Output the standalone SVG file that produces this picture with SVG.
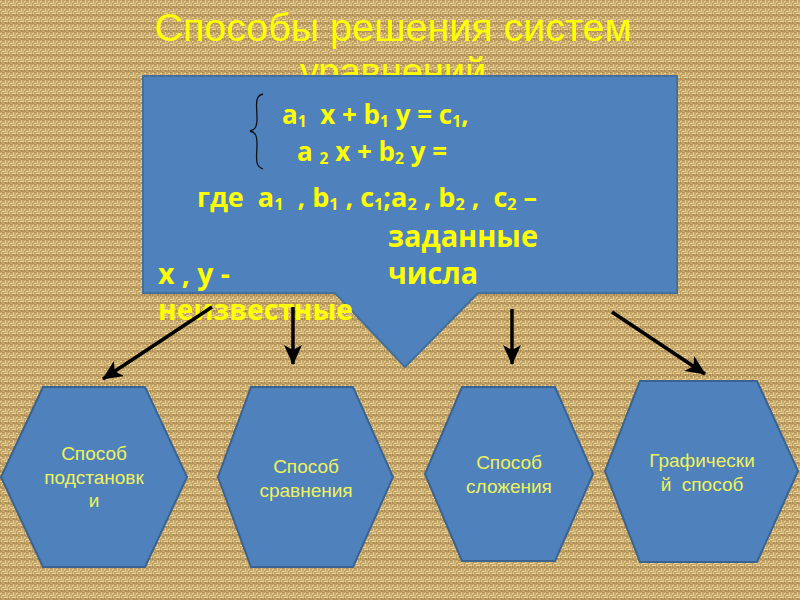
<svg xmlns="http://www.w3.org/2000/svg" width="800" height="600" viewBox="0 0 800 600">
<defs>
<pattern id="burlap" width="8" height="8" patternUnits="userSpaceOnUse">
<rect width="8" height="8" fill="#c3a266"/>
<path d="M0,1.5 H4 M4,5.5 H8 M2,3.5 H5" stroke="#ead69c" stroke-width="1.1"/>
<path d="M5.5,0 V4 M1.5,4 V8 M7,2 V5" stroke="#e2ca8e" stroke-width="0.9"/>
<path d="M3,0 V2 M6,6 V8 M0,7 H2" stroke="#8e6e3e" stroke-width="0.9"/>
</pattern>
<marker id="arrow" markerUnits="userSpaceOnUse" markerWidth="24" markerHeight="20" refX="19" refY="9" orient="auto">
<path d="M0,0 L20,9 L0,18 L5,9 Z" fill="#000"/>
</marker>
<style>
.title{font-family:"Liberation Sans",Arial,sans-serif;font-size:38px;fill:#ffff00;text-anchor:middle}
.bt{font-family:"Open Sans","Liberation Sans",sans-serif;font-weight:700;fill:#ffff00}
.sub{font-size:60%}
.hex{fill:#4f81bd;stroke:#3a6391;stroke-width:2}
.ht{font-family:"Liberation Sans",Arial,sans-serif;font-size:19px;fill:#eef25a;text-anchor:middle}
.conn{stroke:#000;stroke-width:3.5;fill:none;marker-end:url(#arrow)}
</style>
</defs>
<rect width="800" height="600" fill="url(#burlap)"/>

<g id="title">
<text class="title" x="393" y="41" textLength="477" lengthAdjust="spacingAndGlyphs">Способы решения систем</text>
<text class="title" x="393" y="85">уравнений</text>
</g>

<g id="system">
<path d="M143,76 H677 V293 H478 L405,367 L335,293 H143 Z" fill="#4f81bd" stroke="#41719c" stroke-width="2"/>
<path d="M263,94 C254,96 257,106 257,118 C257,127 255,130 250,131 C255,132 257,135 257,144 C257,157 254,166 263,169" fill="none" stroke="#111" stroke-width="1.3"/>
<text class="bt" x="282" y="124" font-size="26">a<tspan class="sub" dy="3">1</tspan><tspan dy="-3" xml:space="preserve">  x + b</tspan><tspan class="sub" dy="3">1</tspan><tspan dy="-3"> y = c</tspan><tspan class="sub" dy="3">1</tspan><tspan dy="-3">,</tspan></text>
<text class="bt" x="297" y="161" font-size="26">a <tspan class="sub" dy="3">2</tspan><tspan dy="-3"> x + b</tspan><tspan class="sub" dy="3">2</tspan><tspan dy="-3"> y =</tspan></text>
<text class="bt" x="197" y="207" font-size="27" xml:space="preserve">где  a<tspan class="sub" dy="3">1</tspan><tspan dy="-3">  , b</tspan><tspan class="sub" dy="3">1</tspan><tspan dy="-3"> , c</tspan><tspan class="sub" dy="3">1</tspan><tspan dy="-3">;a</tspan><tspan class="sub" dy="3">2</tspan><tspan dy="-3"> , b</tspan><tspan class="sub" dy="3">2</tspan><tspan dy="-3"> ,  c</tspan><tspan class="sub" dy="3">2</tspan><tspan dy="-3"> –</tspan></text>
<text class="bt" x="388" y="247" font-size="30" textLength="150" lengthAdjust="spacingAndGlyphs">заданные</text>
<text class="bt" x="388" y="284" font-size="30" textLength="90" lengthAdjust="spacingAndGlyphs">числа</text>
<text class="bt" x="158" y="284" font-size="29" textLength="72" lengthAdjust="spacingAndGlyphs">x , y -</text>
<text class="bt" x="158" y="320" font-size="29" textLength="195" lengthAdjust="spacingAndGlyphs">неизвестные</text>
</g>

<g id="connectors">
<line class="conn" x1="212" y1="307" x2="103" y2="379"/>
<line class="conn" x1="293" y1="307" x2="293" y2="364"/>
<line class="conn" x1="512" y1="309" x2="512" y2="364"/>
<line class="conn" x1="612" y1="312" x2="705" y2="374"/>
</g>

<g id="substitution">
<polygon class="hex" points="43,387 145,387 187,477 145,567 43,567 1,477"/>
<text class="ht" x="94" y="460">Способ</text>
<text class="ht" x="94" y="484">подстановк</text>
<text class="ht" x="94" y="507">и</text>
</g>

<g id="comparison">
<polygon class="hex" points="251,387 353,387 393,477 353,567 251,567 218,477"/>
<text class="ht" x="306" y="473">Способ</text>
<text class="ht" x="306" y="497">сравнения</text>
</g>

<g id="addition">
<polygon class="hex" points="462,387 555,387 593,474 555,561 462,561 425,474"/>
<text class="ht" x="509" y="469">Способ</text>
<text class="ht" x="509" y="493">сложения</text>
</g>

<g id="graphical">
<polygon class="hex" points="640,381 757,381 798,471 757,562 640,562 605,471"/>
<text class="ht" x="702" y="467">Графически</text>
<text class="ht" x="702" y="491" xml:space="preserve">й  способ</text>
</g>
</svg>
